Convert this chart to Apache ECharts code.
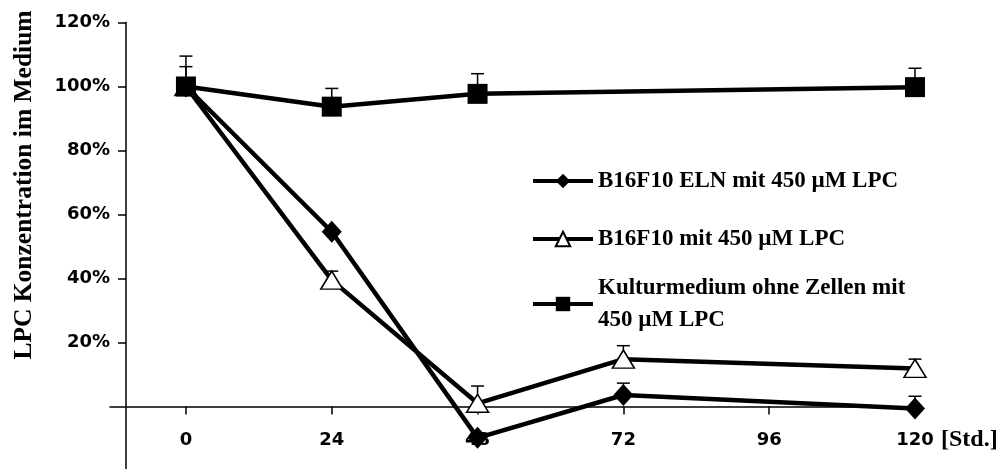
<!DOCTYPE html>
<html>
<head>
<meta charset="utf-8">
<script src="https://cdn.jsdelivr.net/npm/echarts@6/dist/echarts.min.js"></script>
<style>
  html, body { margin: 0; padding: 0; background: #fff; }
  #chart { width: 1006px; height: 469px; }
</style>
</head>
<body>
<div id="chart"></div>
<script>
// Time points in hours
const hours = [0, 24, 48, 72, 120];
const hoursMedium = [0, 24, 48, 120];
const xTicks = [0, 24, 48, 72, 96, 120];
const yTicks = [20, 40, 60, 80, 100, 120];

const seriesNames = [
  'B16F10 ELN mit 450 µM LPC',
  'B16F10 mit 450 µM LPC',
  'Kulturmedium ohne Zellen mit\n450 µM LPC'
];

// LPC concentration in the medium, % of start value
const elnValues = [100, 54.6, -9.8, 3.6, -0.6];
const b16Values = [100, 39.5, 1.0, 14.8, 11.9];
const mediumValues = [100, 93.7, 97.7, 99.8];

// Upper end of the error bar for each point (null = no bar drawn)
const elnUpper = [106.2, null, null, 7.3, 3.2];
const b16Upper = [null, 42.3, 6.4, 19.0, 14.8];
const mediumUpper = [109.5, 99.4, 104.0, 105.7];

const pair = (xs, ys) => xs.map((x, i) => [x, ys[i]]);
const bars = (xs, ys, tops) => xs.map((x, i) => [x, ys[i], tops[i]]).filter(d => d[2] != null);

const axisFont = { fontFamily: 'DejaVu Sans', fontWeight: 'bold', fontSize: 18, color: '#000' };
const serifFont = { fontFamily: 'Liberation Serif', fontWeight: 'bold', color: '#000' };
const black = { color: '#000', width: 1.5 };

function errorBarItem(params, api) {
  const x = api.value(0);
  const p0 = api.coord([x, api.value(1)]);
  const p1 = api.coord([x, api.value(2)]);
  const hw = 6.5;
  const st = { stroke: '#000', lineWidth: 1.5 };
  return {
    type: 'group',
    children: [
      { type: 'line', shape: { x1: p0[0], y1: p0[1], x2: p1[0], y2: p1[1] }, style: st },
      { type: 'line', shape: { x1: p1[0] - hw, y1: p1[1], x2: p1[0] + hw, y2: p1[1] }, style: st }
    ]
  };
}

const allBars = [].concat(
  bars(hours, elnValues, elnUpper),
  bars(hours, b16Values, b16Upper),
  bars(hoursMedium, mediumValues, mediumUpper)
);

const lineBase = {
  type: 'line',
  clip: false,
  z: 3,
  lineStyle: { color: '#000', width: 4.5 },
  emphasis: { disabled: true },
  animation: false
};

const legendBase = {
  orient: 'vertical',
  left: 526,
  itemWidth: 60,
  itemHeight: 18,
  selectedMode: false,
  lineStyle: { width: 4 },
  textStyle: Object.assign({ fontSize: 23, lineHeight: 32 }, serifFont)
};

// the time axis sits on the 0 % level: 20 % of the value range above the grid bottom
const plotTop = 22.5, plotHeight = 448, yMin = -20, yMax = 120;
const zeroOffset = plotHeight * (0 - yMin) / (yMax - yMin);

const chart = echarts.init(document.getElementById('chart'), null, { renderer: 'canvas' });
chart.setOption({
  backgroundColor: '#fff',
  animation: false,
  grid: { left: 110, right: 91, top: plotTop, height: plotHeight, containLabel: false, outerBoundsMode: 'none' },
  xAxis: {
    type: 'value',
    position: 'bottom',
    offset: -zeroOffset,
    min: -12.5,
    max: 120,
    axisLine: { onZero: false, lineStyle: black },
    axisTick: { customValues: xTicks, length: 8, lineStyle: black },
    axisLabel: Object.assign({ customValues: xTicks, margin: 25 }, axisFont),
    splitLine: { show: false }
  },
  yAxis: {
    type: 'value',
    min: yMin,
    max: yMax,
    offset: -16,
    axisLine: { show: true, onZero: false, lineStyle: black },
    axisTick: { show: true, customValues: yTicks, length: 8, lineStyle: black },
    axisLabel: Object.assign({ customValues: yTicks, margin: 16, formatter: '{value}%' }, axisFont),
    splitLine: { show: false }
  },
  legend: [
    Object.assign({ top: 160, data: [seriesNames[0]] }, legendBase),
    Object.assign({ top: 218, data: [seriesNames[1]] }, legendBase),
    Object.assign({ top: 267, data: [seriesNames[2]] }, legendBase)
  ],
  graphic: [
    {
      type: 'text',
      x: 24, y: 185,
      rotation: Math.PI / 2,
      style: {
        text: 'LPC Konzentration im Medium',
        fontFamily: 'Liberation Serif',
        fontWeight: 'bold',
        fontSize: 25.5,
        fill: '#000',
        align: 'center',
        verticalAlign: 'middle'
      }
    },
    {
      type: 'text',
      x: 941, y: 440,
      style: {
        text: '[Std.]',
        fontFamily: 'Liberation Serif',
        fontWeight: 'bold',
        fontSize: 24,
        fill: '#000',
        align: 'left',
        verticalAlign: 'middle'
      }
    }
  ],
  series: [
    {
      type: 'custom',
      name: 'Fehlerbalken',
      clip: false,
      z: 2,
      renderItem: errorBarItem,
      encode: { x: 0, y: [1, 2] },
      data: allBars,
      silent: true
    },
    Object.assign({}, lineBase, {
      name: seriesNames[1],
      data: pair(hours, b16Values),
      symbol: 'triangle',
      symbolSize: [22, 18],
      itemStyle: { color: '#fff', borderColor: '#000', borderWidth: 1.5 }
    }),
    Object.assign({}, lineBase, {
      name: seriesNames[2],
      data: pair(hoursMedium, mediumValues),
      symbol: 'rect',
      symbolSize: 20,
      itemStyle: { color: '#000', borderColor: '#000', borderWidth: 0 }
    }),
    Object.assign({}, lineBase, {
      name: seriesNames[0],
      data: pair(hours, elnValues),
      symbol: 'diamond',
      symbolSize: [20, 22],
      itemStyle: { color: '#000', borderColor: '#000', borderWidth: 0 }
    })
  ]
});
</script>
</body>
</html>
